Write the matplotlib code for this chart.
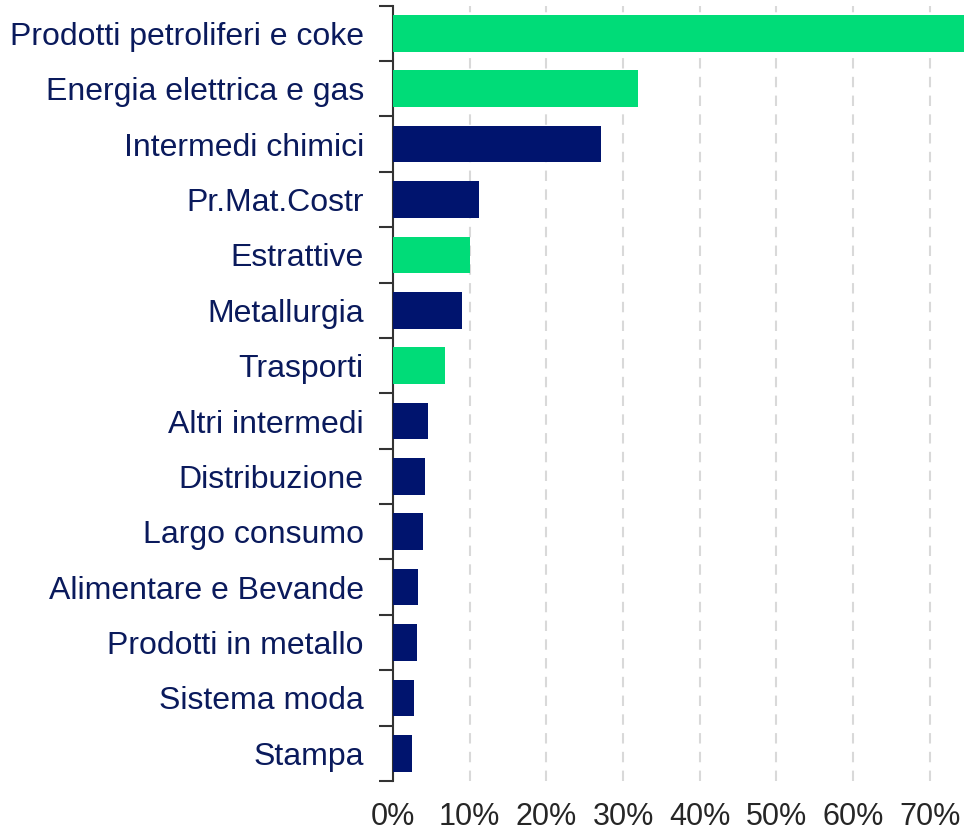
import matplotlib
matplotlib.use("Agg")
import matplotlib.pyplot as plt
from matplotlib.ticker import PercentFormatter

plt.rcParams['font.family'] = ['Liberation Sans', 'DejaVu Sans']

#data
categories = ["Prodotti petroliferi e coke", "Energia elettrica e gas", "Intermedi chimici",
              "Pr.Mat.Costr", "Estrattive", "Metallurgia", "Trasporti", "Altri intermedi",
              "Distribuzione", "Largo consumo", "Alimentare e Bevande", "Prodotti in metallo",
              "Sistema moda", "Stampa"]
values = [78.0, 32.0, 27.1, 11.2, 10.0, 9.0, 6.8, 4.6, 4.2, 3.9, 3.3, 3.1, 2.7, 2.5]
highlight = [True, True, False, False, True, False, True, False, False, False, False, False, False, False]

GREEN = "#00DC78"
NAVY = "#00146E"
colors = [GREEN if h else NAVY for h in highlight]

fig = plt.figure(figsize=(9.64, 8.34), dpi=100)
ax = fig.add_axes([0.4077, 0.0636, 0.5923, 0.9296])

ypos = list(range(len(categories)))
ax.barh(ypos, values, height=0.66, color=colors, zorder=3)

ax.set_xlim(0, 74.45)
ax.set_ylim(len(categories) - 0.5, -0.5)

#y axis: ticks between the bars, labels centered
ax.set_yticks([y + 0.5 for y in ypos[:-1]] + [-0.5, len(categories) - 0.5])
ax.set_yticklabels([])
ax.set_yticks(ypos, minor=True)
ax.set_yticklabels(categories, minor=True, fontsize=23, color="#0A1A5C")
ax.tick_params(axis='y', which='major', length=10, width=1.5, color="#333333")
ax.tick_params(axis='y', which='minor', length=0, pad=21)

#x axis
ax.set_xticks(range(0, 80, 10))
ax.xaxis.set_major_formatter(PercentFormatter(decimals=0))
ax.tick_params(axis='x', length=0, labelsize=22, labelcolor="#262626", pad=15)

ax.grid(axis='x', color="#D9D9D9", linestyle=(0, (5, 4)), linewidth=1.5, zorder=0)

for s in ['top', 'right', 'bottom']:
    ax.spines[s].set_visible(False)
ax.spines['left'].set_linewidth(1.5)
ax.spines['left'].set_color("#333333")

fig.savefig("out.png", dpi=100)
